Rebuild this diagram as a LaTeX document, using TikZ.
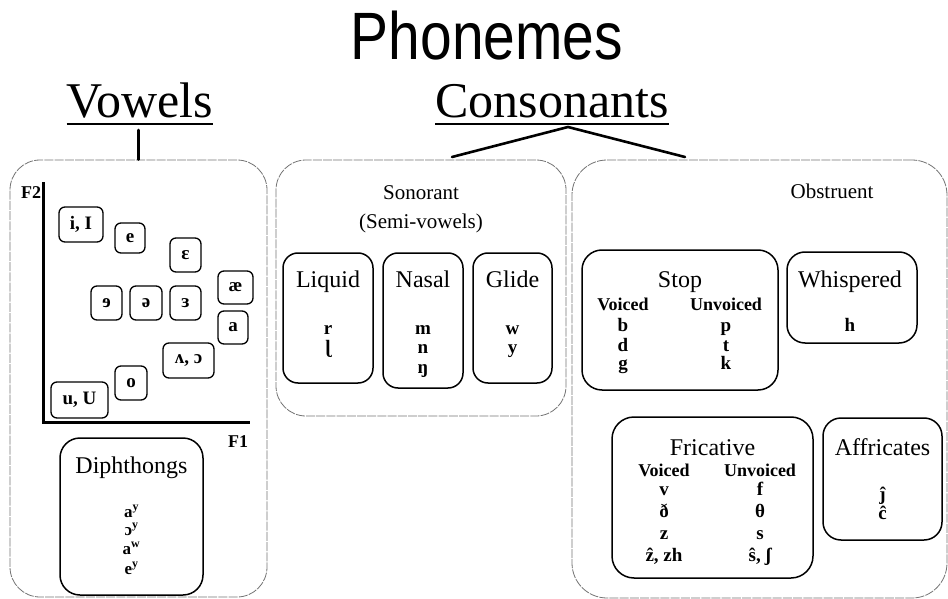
\documentclass[tikz,border=0pt]{standalone}
\usepackage{fontspec}
\setmainfont{Liberation Serif}
\newfontfamily\titlefont[FakeStretch=0.85]{Liberation Sans}
\begin{document}
\begin{tikzpicture}[x=1pt,y=-1pt,
  outer/.style={draw=black!55, line width=0.8pt, dash pattern=on 9pt off 1.2pt, rounded corners=30pt, rectangle, inner sep=0pt},
  inner/.style={draw=black, line width=1.5pt, rounded corners=15pt, rectangle, inner sep=0pt},
  vbox/.style={draw=black, line width=1.3pt, rounded corners=6pt, rectangle, inner sep=0pt, font=\bfseries\fontsize{19}{19}\selectfont},
  heading/.style={font=\fontsize{50}{50}\selectfont, anchor=base, inner sep=0pt},
  boxtitle/.style={font=\fontsize{24}{24}\selectfont, anchor=base, inner sep=0pt},
  grouptitle/.style={font=\fontsize{21}{21}\selectfont, anchor=base, inner sep=0pt},
  sym/.style={font=\bfseries\fontsize{19}{19}\selectfont, anchor=base, inner sep=0pt},
  colhead/.style={font=\bfseries\fontsize{18}{18}\selectfont, anchor=base, inner sep=0pt},
  dsym/.style={font=\bfseries\fontsize{17}{17}\selectfont, anchor=base, inner sep=0pt},
  thick line/.style={line width=2.6pt, line cap=round}
]
\useasboundingbox (0,0) rectangle (948,599);

% title
\node[font=\titlefont\fontsize{67}{67}\selectfont, anchor=base, inner sep=0pt] (phon) at (487,60) {Phonemes};

% headings
\node[heading] (vow) at (140,118) {Vowels};
\node[heading] (cons) at (552,118) {Consonants};
\draw[line width=2pt] ([yshift=-6pt]vow.base west) -- ([yshift=-6pt]vow.base east);
\draw[line width=2pt] ([yshift=-6pt]cons.base west) -- ([yshift=-6pt]cons.base east);

% outer boxes
\node[outer, minimum width=257pt, minimum height=437pt] (vbig) at (138.5,378.5) {};
\node[outer, minimum width=290pt, minimum height=256pt] (son) at (421,288) {};
\node[outer, minimum width=375pt, minimum height=438pt, rounded corners=35pt] (obs) at (759.5,379) {};

% connectors
\coordinate (vtop) at (138.5,130);
\draw[thick line] (vtop) -- (vbig.north);
\coordinate (apex) at (568,127);
\coordinate (sl) at (452,157);
\coordinate (sr) at (685,157);
\draw[thick line, line join=miter] (sl) -- (apex) -- (sr);

% vowel chart axes
\coordinate (ytop) at (43,182);
\coordinate (orig) at (43,422);
\coordinate (xend) at (250,422);
\draw[line width=3pt] (ytop) -- (orig) -- (xend);
\node[colhead] (f2) at (31,198) {F2};
\node[colhead] (f1) at (238,447) {F1};

% vowel boxes
\node[vbox, minimum width=44pt, minimum height=35pt] (vi) at (81,224.5) {i, I};
\node[vbox, minimum width=30pt, minimum height=30pt] (ve) at (130,238) {e};
\node[vbox, minimum width=31pt, minimum height=34pt] (veps) at (185.5,255) {ɛ};
\node[vbox, minimum width=35pt, minimum height=33pt] (vae) at (235.5,287.5) {æ};
\node[vbox, minimum width=30pt, minimum height=33pt] (va) at (233,327.5) {a};
\node[vbox, minimum width=31pt, minimum height=34pt] (vre) at (106.5,303) {ɘ};
\node[vbox, minimum width=32pt, minimum height=34pt] (vschwa) at (146,303) {ə};
\node[vbox, minimum width=31pt, minimum height=34pt] (vrev) at (185.5,303) {ɜ};
\node[vbox, minimum width=51pt, minimum height=35pt] (vwedge) at (188.5,360.5) {ʌ, ɔ};
\node[vbox, minimum width=32pt, minimum height=34pt] (vo) at (131,383) {o};
\node[vbox, minimum width=57pt, minimum height=36pt] (vu) at (79.5,400) {u, U};

% diphthongs
\node[inner, minimum width=143pt, minimum height=157pt, rounded corners=20pt] (diph) at (131.5,516.5) {};
\node[boxtitle] (diphT) at (131.5,473) {Diphthongs};
\node[dsym] (d1) at (131.5,517) {a\textsuperscript{y}};
\node[dsym] (d2) at (131.5,535) {ɔ\textsuperscript{y}};
\node[dsym] (d3) at (131.5,554) {a\textsuperscript{w}};
\node[dsym] (d4) at (131.5,574) {e\textsuperscript{y}};

% sonorant
\node[grouptitle] (sonT) at (421,199) {Sonorant};
\node[grouptitle] (sonT2) at (421,228) {(Semi-vowels)};
\node[inner, minimum width=90pt, minimum height=130pt] (liq) at (328,318) {};
\node[inner, minimum width=80pt, minimum height=135pt] (nas) at (423,320.5) {};
\node[inner, minimum width=79pt, minimum height=130pt] (gli) at (512.5,318) {};
\node[boxtitle] (liqT) at (328,287) {Liquid};
\node[boxtitle] (nasT) at (423,287) {Nasal};
\node[boxtitle] (gliT) at (512.5,287) {Glide};
\node[sym] (lr) at (328,334) {r};
\node[sym] (ll) at (328,353) {ɭ};
\node[sym] (nm) at (423,334) {m};
\node[sym] (nn) at (423,353) {n};
\node[sym] (nng) at (423,373) {ŋ};
\node[sym] (gw) at (512.5,334) {w};
\node[sym] (gy) at (512.5,353) {y};

% obstruent
\node[grouptitle] (obsT) at (832,198) {Obstruent};
\node[inner, minimum width=196pt, minimum height=140pt, rounded corners=20pt] (stop) at (680,320) {};
\node[boxtitle] (stopT) at (680,287) {Stop};
\node[colhead] (sv) at (623,310) {Voiced};
\node[colhead] (su) at (726,310) {Unvoiced};
\node[sym] (sb) at (623,331) {b};
\node[sym] (sd) at (623,351) {d};
\node[sym] (sg) at (623,369) {g};
\node[sym] (sp) at (726,331) {p};
\node[sym] (st) at (726,351) {t};
\node[sym] (sk) at (726,369) {k};

\node[inner, minimum width=130pt, minimum height=91pt, rounded corners=18pt] (whis) at (852,297.5) {};
\node[boxtitle] (whisT) at (850,287) {Whispered};
\node[sym] (wh) at (850,331) {h};

\node[inner, minimum width=201pt, minimum height=161pt, rounded corners=22pt] (fric) at (712.5,497.5) {};
\node[boxtitle] (fricT) at (712.5,455) {Fricative};
\node[colhead] (fv) at (664,476) {Voiced};
\node[colhead] (fu) at (760,476) {Unvoiced};
\node[sym] (f_v) at (664,495) {v};
\node[sym] (f_dh) at (664,517) {ð};
\node[sym] (f_z) at (664,539) {z};
\node[sym] (f_zh) at (664,561) {ẑ, zh};
\node[sym] (f_f) at (760,495) {f};
\node[sym] (f_th) at (760,517) {θ};
\node[sym] (f_s) at (760,539) {s};
\node[sym] (f_sh) at (760,561) {ŝ, ʃ};

\node[inner, minimum width=119pt, minimum height=122pt, rounded corners=18pt] (aff) at (882.5,479) {};
\node[boxtitle] (affT) at (882.5,455) {Affricates};
\node[sym] (aj) at (882.5,500) {ĵ};
\node[sym] (ac) at (882.5,519) {ĉ};
\end{tikzpicture}
\end{document}
